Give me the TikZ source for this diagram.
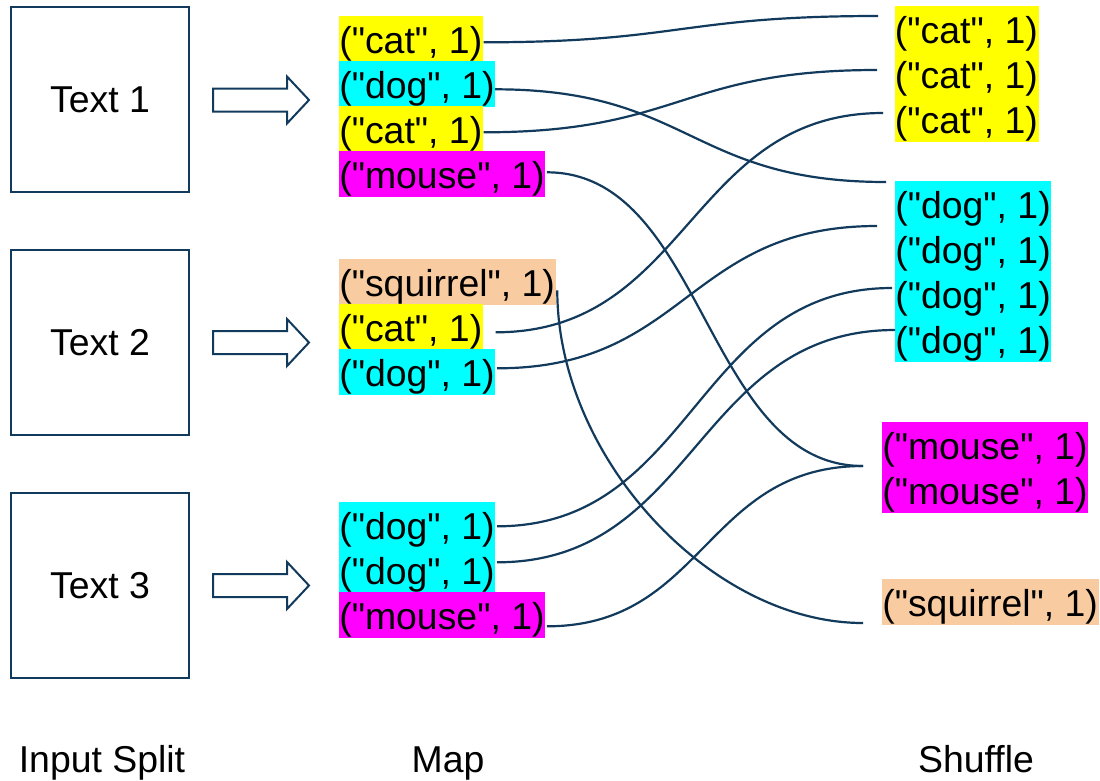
\documentclass[tikz,border=0pt]{standalone}
\usepackage{fontspec}
\setmainfont{Liberation Sans}[Ligatures=TeXOff]
\usetikzlibrary{calc}
\definecolor{navy}{HTML}{123A5C}
\definecolor{hlyellow}{HTML}{FFFF00}
\definecolor{hlcyan}{HTML}{00FFFF}
\definecolor{hlmagenta}{HTML}{FF00FF}
\definecolor{hlpeach}{HTML}{F8CBA0}

% S-shaped link: horizontal tangents at both ends
\newcommand\pairlink[2]{%
  \draw[conn] let \p1=(#1), \p2=(#2) in
    (\p1) .. controls ({(\x1+\x2)/2},\y1) and ({(\x1+\x2)/2},\y2) .. (\p2);}
% single-bend link: leaves downwards, arrives horizontally
\newcommand\bendlink[2]{%
  \draw[conn] let \p1=(#1), \p2=(#2) in
    (\p1) .. controls (\x1,{(\y1+\y2)/2}) and ({(\x1+\x2)/2},\y2) .. (\p2);}

\begin{document}
\begin{tikzpicture}[x=1pt,y=-1pt,
  every node/.style={font=\fontsize{37.4}{45}\selectfont},
  split/.style={draw=navy, line width=2pt, minimum width=178pt,
    minimum height=185pt, inner sep=0pt},
  pair/.style={fill=#1, draw=#1, line width=0.6pt, inner sep=0pt,
    text height=37pt, text depth=8pt, anchor=north west},
  conn/.style={navy, line width=2.2pt},
  blockarrow/.style={draw=navy, line width=2pt, fill=white, line join=miter}]

\useasboundingbox (0,0) rectangle (1100,780);

% input splits
\node[split] (t1) at (100,99.5) {Text 1};
\node[split] (t2) at (100,342.5) {Text 2};
\node[split] (t3) at (100,585.5) {Text 3};

% block arrows into the map stage
\foreach \cy in {100,342.5,585.5}{
  \draw[blockarrow, shift={(0,\cy)}] (213,-11.5) -- (287,-11.5) -- (287,-23.5)
    -- (309,0) -- (287,23.5) -- (287,11.5) -- (213,11.5) -- cycle;
}

% map output
\node[pair=hlyellow]  (m1)  at (339,16)  {("cat", 1)};
\node[pair=hlcyan]    (m2)  at (339,61)  {("dog", 1)};
\node[pair=hlyellow]  (m3)  at (339,106) {("cat", 1)};
\node[pair=hlmagenta] (m4)  at (339,151) {("mouse", 1)};
\node[pair=hlpeach]   (m5)  at (339,259) {("squirrel", 1)};
\node[pair=hlyellow]  (m6)  at (339,304) {("cat", 1)};
\node[pair=hlcyan]    (m7)  at (339,349) {("dog", 1)};
\node[pair=hlcyan]    (m8)  at (339,502) {("dog", 1)};
\node[pair=hlcyan]    (m9)  at (339,547) {("dog", 1)};
\node[pair=hlmagenta] (m10) at (339,592) {("mouse", 1)};

% shuffled groups
\node[pair=hlyellow]  (s1)  at (894.6,6)   {("cat", 1)};
\node[pair=hlyellow]  (s2)  at (894.6,51)  {("cat", 1)};
\node[pair=hlyellow]  (s3)  at (894.6,96)  {("cat", 1)};
\node[pair=hlcyan]    (s4)  at (895,181)   {("dog", 1)};
\node[pair=hlcyan]    (s5)  at (895,226)   {("dog", 1)};
\node[pair=hlcyan]    (s6)  at (895,271)   {("dog", 1)};
\node[pair=hlcyan]    (s7)  at (895,316)   {("dog", 1)};
\node[pair=hlmagenta] (s8)  at (882,422)   {("mouse", 1)};
\node[pair=hlmagenta] (s9)  at (882,467)   {("mouse", 1)};
\node[pair=hlpeach]   (s10) at (882,579)   {("squirrel", 1)};

% link ends beside the map pairs
\coordinate (a1)  at ([shift={(1,3.5)}]m1.east);
\coordinate (a2)  at ([shift={(0,5.5)}]m2.east);
\coordinate (a3)  at ([shift={(1,3.5)}]m3.east);
\coordinate (a4)  at ([shift={(2,-1.5)}]m4.east);
\coordinate (a5)  at ([shift={(2,8.5)}]m5.east);
\coordinate (a6)  at ([shift={(13,5.5)}]m6.east);
\coordinate (a7)  at ([shift={(2,-3.5)}]m7.east);
\coordinate (a8)  at ([shift={(2,1.5)}]m8.east);
\coordinate (a9)  at ([shift={(2,-7.5)}]m9.east);
\coordinate (a10) at ([shift={(2,11.5)}]m10.east);

% link ends beside the shuffled groups
\coordinate (b1) at (878,16);
\coordinate (b2) at (886,182);
\coordinate (b3) at (877,70);
\coordinate (b4) at (863,466);
\coordinate (b5) at (863,623);
\coordinate (b6) at (883,113);
\coordinate (b7) at (877,226);
\coordinate (b8) at (892,288);
\coordinate (b9) at (895,330);

\pairlink{a1}{b1}
\pairlink{a2}{b2}
\pairlink{a3}{b3}
\pairlink{a4}{b4}
\bendlink{a5}{b5}
\pairlink{a6}{b6}
\pairlink{a7}{b7}
\pairlink{a8}{b8}
\pairlink{a9}{b9}
\pairlink{a10}{b4}

% stage captions
\node[anchor=base] (cap1) at (102,772) {Input Split};
\node[anchor=base] (cap2) at (448,772) {Map};
\node[anchor=base] (cap3) at (976,772) {Shuffle};
\end{tikzpicture}
\end{document}
